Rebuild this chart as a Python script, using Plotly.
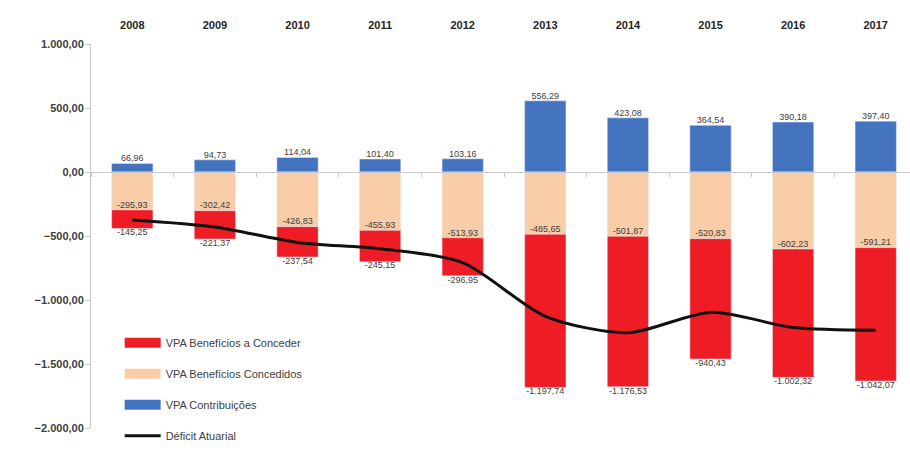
import plotly.graph_objects as go

years = ["2008", "2009", "2010", "2011", "2012", "2013", "2014", "2015", "2016", "2017"]
contribuicoes = [66.96, 94.73, 114.04, 101.40, 103.16, 556.29, 423.08, 364.54, 390.18, 397.40]
concedidos = [-295.93, -302.42, -426.83, -455.93, -513.93, -485.65, -501.87, -520.83, -602.23, -591.21]
conceder = [-145.25, -221.37, -237.54, -245.15, -296.95, -1197.74, -1176.53, -940.43, -1002.32, -1042.07]
deficit = [-374.22, -429.06, -550.33, -599.68, -707.72, -1127.10, -1255.32, -1096.72, -1214.37, -1235.88]

C_RED = "#EE1C25"
C_PEACH = "#F9CDA8"
C_BLUE = "#4473C0"
TXT = "#404040"
FONT = "Liberation Sans"


def br(v):
    s = f"{v:,.2f}"
    return s.replace(",", "X").replace(".", ",").replace("X", ".")


fig = go.Figure()

# Bars
fig.add_trace(go.Bar(x=years, y=contribuicoes, marker_color=C_BLUE, width=0.5, showlegend=False))
fig.add_trace(go.Bar(x=years, y=concedidos, marker_color=C_PEACH, width=0.5, showlegend=False))
fig.add_trace(go.Bar(x=years, y=conceder, marker_color=C_RED, width=0.5, showlegend=False))

# Deficit line
fig.add_trace(go.Scatter(x=years, y=deficit, mode="lines", line=dict(color="#111111", width=3, shape="spline", smoothing=0.8),
                         showlegend=False))

# Labels
lab_font = dict(family=FONT, size=9, color=TXT)
fig.add_trace(go.Scatter(x=years, y=contribuicoes, mode="text", text=[br(v) for v in contribuicoes],
                         textposition="top center", textfont=lab_font, showlegend=False, cliponaxis=False))
fig.add_trace(go.Scatter(x=years, y=concedidos, mode="text", text=[br(v) for v in concedidos],
                         textposition="top center", textfont=lab_font, showlegend=False, cliponaxis=False))
red_bottom = [a + b for a, b in zip(concedidos, conceder)]
fig.add_trace(go.Scatter(x=years, y=red_bottom, mode="text", text=[br(v) for v in conceder],
                         textposition="bottom center", textfont=lab_font, showlegend=False, cliponaxis=False))

# Legend entries (wide swatches)
leg = [("VPA Benefícios a Conceder", C_RED, 10), ("VPA Benefícios Concedidos", C_PEACH, 10),
       ("VPA Contribuições", C_BLUE, 10), ("Déficit Atuarial", "#111111", 3)]
for i, (name, col, w) in enumerate(leg):
    fig.add_trace(go.Scatter(x=[None], y=[None], mode="lines", name=name, line=dict(color=col, width=w),
                             legendgroup=f"g{i}"))

# zero-line axis with boundary ticks
fig.add_trace(go.Scatter(x=years, y=[None] * len(years), xaxis="x2", showlegend=False, hoverinfo="skip"))

fig.update_layout(
    width=910, height=461,
    margin=dict(l=91, r=0, t=44, b=33),
    barmode="relative",
    bargap=0.5,
    plot_bgcolor="white", paper_bgcolor="white",
    separators=",.",
    font=dict(family=FONT, color=TXT),
    xaxis=dict(side="top", type="category", range=[-0.5, 9.415], showline=False, showgrid=False, zeroline=False,
               ticks="", ticklabelstandoff=12,
               tickfont=dict(family=FONT, size=11, color="#262626", weight="bold")),
    xaxis2=dict(type="category", overlaying="x", anchor="free", position=2000 / 3000, side="bottom",
                range=[-0.5, 9.415], showline=True, linecolor="#C8C8C8", linewidth=1, ticks="outside",
                tickson="boundaries", ticklen=4, tickcolor="#C8C8C8", showticklabels=False, showgrid=False,
                zeroline=False),
    yaxis=dict(range=[-2000, 1000], dtick=500, tickformat=",.2f", showgrid=False, zeroline=False,
               showline=True, linecolor="#C8C8C8", ticks="outside", ticklen=4, tickcolor="#C8C8C8",
               tickfont=dict(family=FONT, size=11, color="#404040", weight="bold")),
    legend=dict(x=0.035, y=0.26, xanchor="left", yanchor="top", bgcolor="rgba(0,0,0,0)",
                font=dict(family=FONT, size=11, color=TXT), tracegroupgap=12, itemwidth=36,
                traceorder="grouped"),
)

fig.write_html("out.html")
